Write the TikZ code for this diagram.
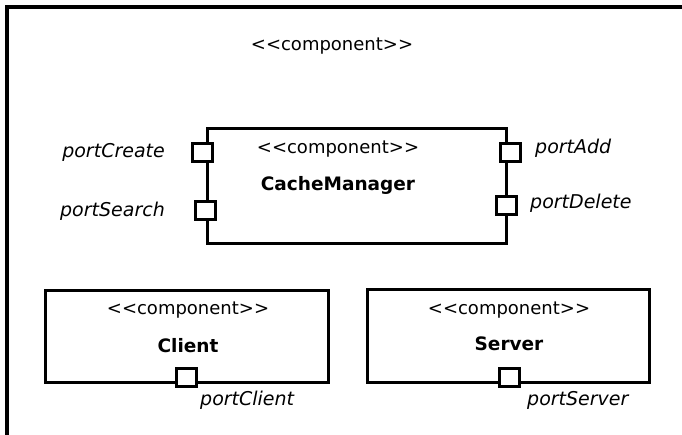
\documentclass[tikz,border=0pt]{standalone}
\usepackage{fontspec}
\setmainfont{DejaVu Sans}
\newcommand{\stereotxt}{<{}<component>{}>}
\begin{document}
\begin{tikzpicture}[x=1pt,y=-1pt,
  comp/.style={draw,line width=3pt,fill=none,inner sep=0pt},
  port/.style={draw,line width=3pt,fill=white,minimum width=20pt,minimum height=18pt,inner sep=0pt},
  stereo/.style={font=\fontsize{18}{21}\selectfont,inner sep=0pt,anchor=base},
  cname/.style={font=\fontsize{18.5}{21}\selectfont\bfseries,inner sep=0pt,anchor=base},
  plabel/.style={font=\fontsize{19}{22}\selectfont\itshape,inner sep=0pt}
]
\useasboundingbox (0,0) rectangle (682,434);
\fill[white] (0,0) rectangle (682,434);
% outer frame (extends beyond the picture)
\draw[line width=4pt] (7,460) -- (7,7) -- (700,7);
\node[stereo] (outerst) at (332,50) {\stereotxt};

% CacheManager
\node[comp,minimum width=299pt,minimum height=115pt] (cm) at (356.5,185.5) {};
\node[stereo] (cmst) at (338,153) {\stereotxt};
\node[cname] (cmname) at (338,190) {CacheManager};
\node[port] (pcreate) at (202,152) {};
\node[port] (psearch) at (205,210) {};
\node[port] (padd) at (510,152) {};
\node[port] (pdelete) at (506,205) {};
\node[plabel,anchor=east] (lcreate) at (165,152) {portCreate};
\node[plabel,anchor=east] (lsearch) at (165,211) {portSearch};
\node[plabel,anchor=west] (ladd) at (535,148) {portAdd};
\node[plabel,anchor=west] (ldelete) at (530,203) {portDelete};

% Client
\node[comp,minimum width=283pt,minimum height=92pt] (client) at (186.5,336) {};
\node[stereo] (clst) at (188,314) {\stereotxt};
\node[cname] (clname) at (188,352) {Client};
\node[port] (pclient) at (186,377) {};
\node[plabel,anchor=west] (lclient) at (200,400) {portClient};

% Server
\node[comp,minimum width=282pt,minimum height=93pt] (server) at (508,335.5) {};
\node[stereo] (svst) at (509,314) {\stereotxt};
\node[cname] (svname) at (509,350) {Server};
\node[port] (pserver) at (509,377) {};
\node[plabel,anchor=west] (lserver) at (527,400) {portServer};
\end{tikzpicture}
\end{document}
